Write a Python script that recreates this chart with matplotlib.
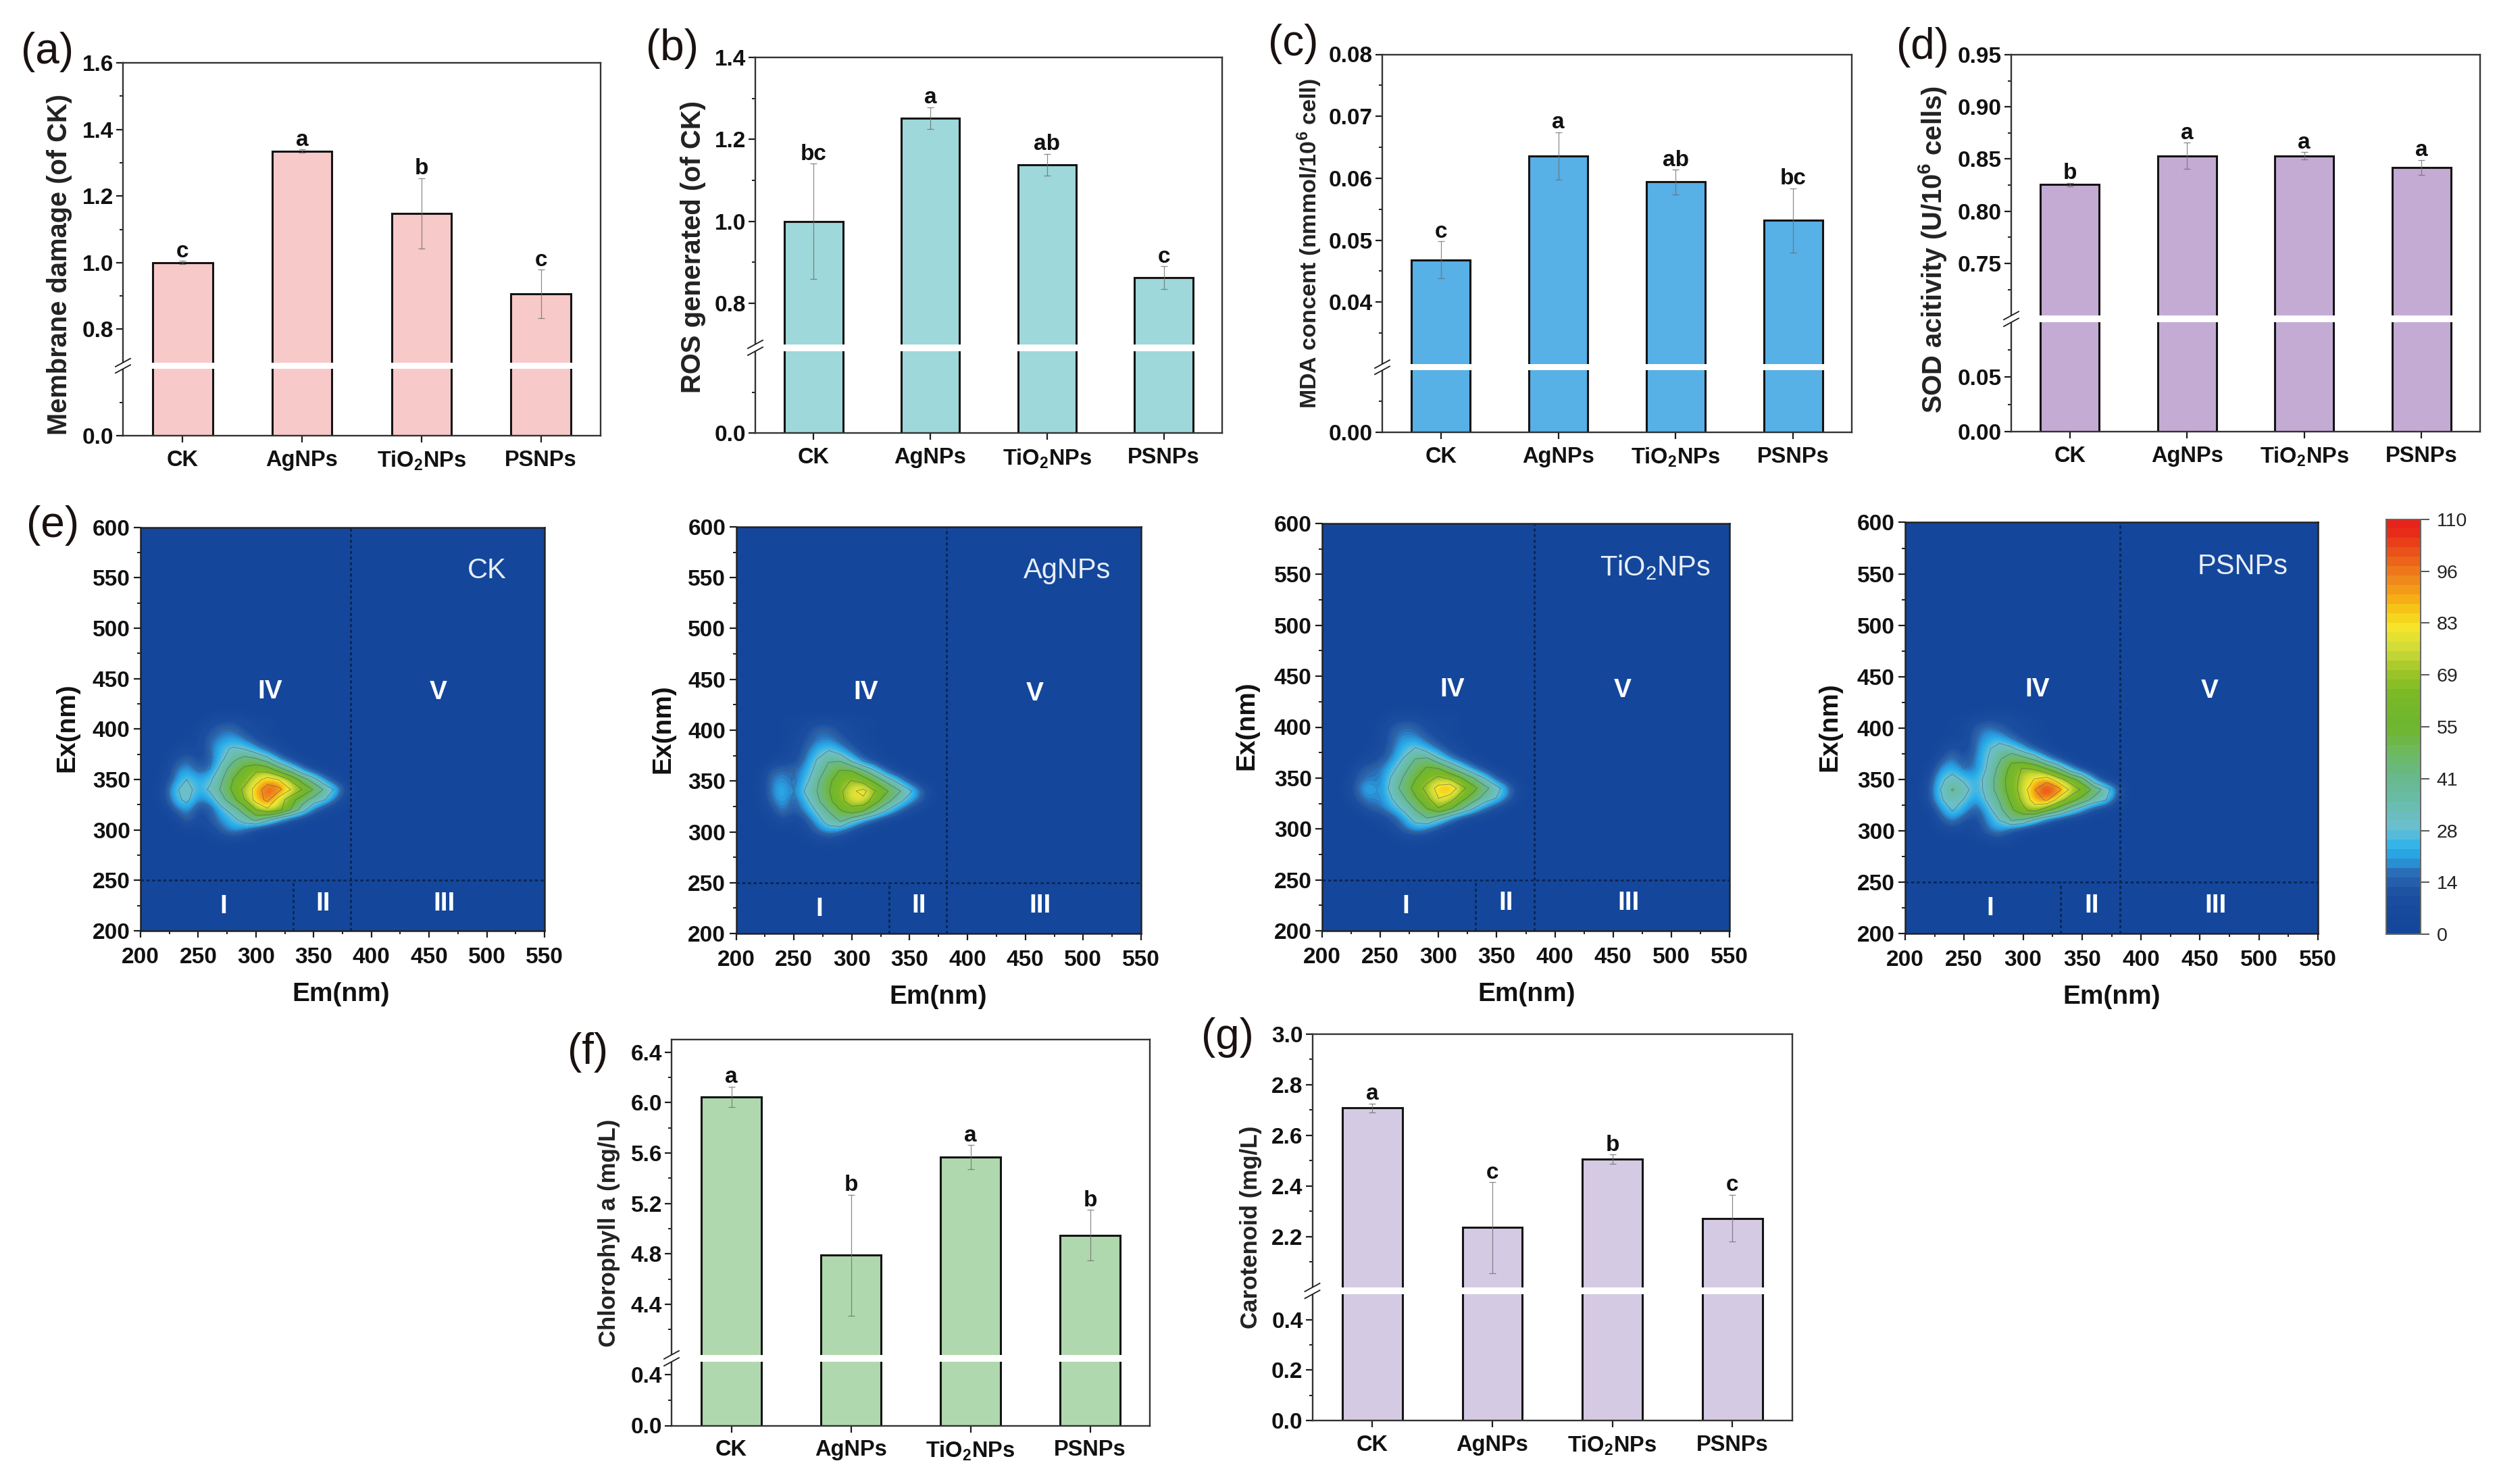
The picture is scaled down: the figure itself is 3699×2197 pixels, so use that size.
import numpy as np
import matplotlib
matplotlib.use("Agg")
import matplotlib.pyplot as plt
from matplotlib.colors import LinearSegmentedColormap
from matplotlib.patches import Rectangle

W, H = 3699, 2197
plt.rcParams['font.family'] = ['Liberation Sans', 'DejaVu Sans']
plt.rcParams['mathtext.default'] = 'regular'
plt.rcParams['axes.unicode_minus'] = False

# ---------- data ----------
categories = ['CK', 'AgNPs', 'TiO$_2$NPs', 'PSNPs']

membrane = [1.0, 1.335, 1.148, 0.906]
membrane_err = [0.005, 0.005, 0.106, 0.0725]
membrane_sig = ['c', 'a', 'b', 'c']

ros = [1.0, 1.252, 1.138, 0.862]
ros_err = [0.141, 0.026, 0.027, 0.028]
ros_sig = ['bc', 'a', 'ab', 'c']

mda = [0.0468, 0.0636, 0.0594, 0.0532]
mda_err = [0.0030, 0.0038, 0.0020, 0.0052]
mda_sig = ['c', 'a', 'ab', 'bc']

sod = [0.8256, 0.853, 0.853, 0.842]
sod_err = [0.0015, 0.0127, 0.0035, 0.0073]
sod_sig = ['b', 'a', 'a', 'a']

chla = [6.045, 4.79, 5.568, 4.948]
chla_err = [0.08, 0.48, 0.095, 0.20]
chla_sig = ['a', 'b', 'a', 'b']

carot = [2.708, 2.236, 2.506, 2.273]
carot_err = [0.018, 0.179, 0.018, 0.093]
carot_sig = ['a', 'c', 'b', 'c']

em_nm = [220, 230, 240, 250, 260, 270, 280, 290, 300, 310, 320, 330, 340, 350, 360, 370, 380]
ex_nm = [410, 400, 390, 380, 370, 360, 350, 340, 330, 320, 310, 300, 290]

eem_ck = [
    [0, 0, 0, 1, 4, 6, 7, 6, 3, 2, 1, 0, 0, 0, 0, 0, 0],
    [0, 0, 1, 3, 9, 15, 14, 8, 5, 3, 1, 0, 0, 0, 0, 0, 0],
    [0, 1, 2, 5, 14, 17, 20, 15, 8, 4, 2, 0, 0, 0, 0, 0, 0],
    [0, 3, 6, 4, 15, 24, 30, 28, 19, 11, 5, 2, 0, 0, 0, 0, 0],
    [1, 8, 15, 7, 12, 25, 38, 46, 43, 33, 17, 7, 2, 0, 0, 0, 0],
    [2, 15, 20, 12, 14, 34, 48, 58, 66, 62, 47, 33, 16, 6, 1, 0, 0],
    [4, 17, 28, 20, 25, 39, 55, 62, 78, 88, 82, 67, 48, 33, 16, 4, 0],
    [8, 25, 35, 21, 30, 43, 58, 73, 88, 104, 100, 83, 69, 54, 38, 24, 5],
    [7, 23, 32, 16, 20, 36, 50, 69, 88, 100, 76, 62, 47, 36, 28, 12, 2],
    [2, 14, 20, 8, 10, 24, 34, 47, 69, 80, 74, 55, 35, 15, 5, 1, 0],
    [0, 3, 15, 6, 11, 18, 24, 34, 44, 32, 18, 8, 3, 1, 0, 0, 0],
    [0, 1, 3, 2, 5, 14, 20, 15, 6, 2, 1, 0, 0, 0, 0, 0, 0],
    [0, 0, 0, 0, 1, 3, 5, 3, 1, 0, 0, 0, 0, 0, 0, 0, 0],
]
eem_ag = [
    [0, 0, 2, 3, 4, 5, 6, 5, 4, 3, 2, 0, 0, 0, 0, 0, 0],
    [0, 0, 1, 3, 7, 14, 14, 8, 5, 3, 1, 0, 0, 0, 0, 0, 0],
    [0, 0, 1, 4, 10, 16, 17, 13, 7, 3, 1, 0, 0, 0, 0, 0, 0],
    [0, 0, 2, 5, 13, 22, 28, 21, 13, 7, 3, 1, 0, 0, 0, 0, 0],
    [0, 2, 6, 7, 16, 29, 40, 40, 26, 13, 6, 2, 0, 0, 0, 0, 0],
    [1, 13, 15, 14, 20, 33, 46, 56, 55, 43, 29, 12, 4, 1, 0, 0, 0],
    [2, 15, 20, 12, 24, 39, 52, 63, 70, 64, 52, 38, 24, 9, 2, 0, 0],
    [2, 16, 24, 14, 30, 41, 54, 66, 80, 88, 70, 57, 44, 31, 16, 3, 0],
    [2, 13, 22, 11, 23, 38, 51, 64, 78, 78, 60, 45, 32, 20, 11, 2, 0],
    [1, 6, 18, 10, 17, 29, 41, 53, 60, 54, 40, 26, 14, 5, 1, 0, 0],
    [0, 2, 8, 3, 9, 20, 34, 41, 28, 16, 7, 2, 0, 0, 0, 0, 0],
    [0, 0, 1, 1, 5, 13, 18, 14, 6, 2, 0, 0, 0, 0, 0, 0, 0],
    [0, 0, 0, 0, 1, 3, 5, 3, 1, 0, 0, 0, 0, 0, 0, 0, 0],
]
eem_ti = [
    [0, 0, 1, 2, 5, 6, 6, 4, 3, 5, 1, 0, 0, 0, 0, 0, 0],
    [0, 0, 1, 4, 11, 15, 13, 7, 4, 2, 1, 0, 0, 0, 0, 0, 0],
    [0, 0, 1, 4, 14, 18, 17, 12, 7, 3, 1, 0, 0, 0, 0, 0, 0],
    [0, 0, 2, 6, 14, 23, 28, 19, 13, 7, 3, 1, 0, 0, 0, 0, 0],
    [0, 1, 4, 9, 17, 28, 40, 41, 27, 15, 7, 3, 0, 0, 0, 0, 0],
    [0, 8, 14, 15, 23, 36, 48, 56, 54, 41, 28, 14, 5, 1, 0, 0, 0],
    [1, 12, 16, 15, 30, 42, 54, 63, 72, 66, 55, 41, 27, 10, 3, 0, 0],
    [2, 15, 23, 15, 34, 46, 60, 74, 88, 94, 74, 60, 45, 33, 18, 3, 0],
    [2, 12, 19, 16, 28, 39, 53, 66, 83, 76, 60, 47, 35, 27, 14, 3, 0],
    [0, 4, 12, 15, 21, 31, 42, 55, 68, 57, 42, 28, 15, 6, 1, 0, 0],
    [0, 0, 3, 5, 11, 19, 33, 40, 30, 17, 7, 2, 0, 0, 0, 0, 0],
    [0, 0, 0, 2, 6, 14, 20, 16, 8, 3, 1, 0, 0, 0, 0, 0, 0],
    [0, 0, 0, 0, 1, 3, 5, 3, 1, 0, 0, 0, 0, 0, 0, 0, 0],
]
eem_ps = [
    [0, 0, 1, 3, 5, 6, 7, 6, 4, 2, 1, 0, 0, 0, 0, 0, 0],
    [0, 1, 2, 4, 12, 17, 12, 8, 5, 3, 1, 0, 0, 0, 0, 0, 0],
    [0, 1, 2, 4, 15, 20, 22, 14, 8, 4, 2, 0, 0, 0, 0, 0, 0],
    [0, 3, 12, 5, 15, 26, 34, 31, 20, 10, 4, 1, 0, 0, 0, 0, 0],
    [0, 10, 18, 8, 17, 28, 39, 52, 46, 37, 20, 8, 2, 0, 0, 0, 0],
    [3, 19, 23, 14, 16, 30, 45, 59, 71, 68, 56, 42, 20, 6, 1, 0, 0],
    [8, 25, 33, 25, 22, 33, 48, 62, 74, 84, 90, 75, 62, 47, 18, 3, 0],
    [10, 28, 42, 34, 20, 34, 47, 62, 76, 96, 110, 101, 80, 67, 51, 35, 16],
    [9, 26, 35, 27, 18, 30, 42, 58, 73, 90, 98, 77, 62, 49, 36, 29, 8],
    [3, 17, 29, 20, 10, 23, 37, 52, 66, 74, 58, 46, 31, 18, 7, 2, 0],
    [0, 10, 18, 9, 7, 18, 28, 41, 38, 24, 12, 5, 1, 0, 0, 0, 0],
    [0, 3, 7, 3, 5, 15, 19, 10, 4, 1, 0, 0, 0, 0, 0, 0, 0],
    [0, 0, 0, 0, 1, 4, 6, 3, 1, 0, 0, 0, 0, 0, 0, 0, 0],
]
eem_names = ['CK', 'AgNPs', 'TiO$_2$NPs', 'PSNPs']
contour_levels = [14, 28, 41, 55, 69, 83, 96]
cbar_ticks = [0, 13.75, 27.5, 41.25, 55, 68.75, 82.5, 96.25, 110]
cbar_labels = ['0', '14', '28', '41', '55', '69', '83', '96', '110']

# ---------- helpers ----------
fig = plt.figure(figsize=(W / 100, H / 100), dpi=100, facecolor='white')
DARK = '#1c1c1c'


def px_axes(L, T, R, B):
    return fig.add_axes([L / W, 1 - B / H, (R - L) / W, (B - T) / H])


def px_text(x, y, s, **kw):
    return fig.text(x / W, 1 - y / H, s, ha='center', va='center', **kw)


def fitted_ylabel(x, y, s, length):
    t = px_text(x, y, s, rotation=90, fontweight='bold', fontsize=30, color='#222222')
    r = fig.canvas.get_renderer()
    t.set_fontsize(30 * length / t.get_window_extent(r).height)


def bar_panel(box, vals, errs, sig, color, ymax, lo, hi, lo_frac, hi_frac,
              major, major_lbl, minor):
    L, T, R, B = box
    ax = px_axes(L, T, R, B)
    xp, fp = [0, lo, hi, ymax], [0, lo_frac, hi_frac, 1]
    ax.set_yscale('function', functions=(lambda v: np.interp(v, xp, fp),
                                         lambda f: np.interp(f, fp, xp)))
    x = np.arange(len(vals))
    ax.bar(x, vals, width=0.5, color=color, edgecolor='#141414', linewidth=2.2, zorder=2)
    ax.errorbar(x, vals, yerr=errs, fmt='none', ecolor='#6e6e6e', elinewidth=0.9,
                capsize=3.5, capthick=0.9, alpha=0.8, zorder=3)
    for xi, v, e, s in zip(x, vals, errs, sig):
        ax.annotate(s, (xi, v + e), xytext=(0, 4), textcoords='offset points',
                    ha='center', va='baseline', fontsize=24, fontweight='bold', color='#111111',
                    zorder=6)
    ax.set_xlim(-0.5, 3.5)
    ax.set_ylim(0, ymax)
    ax.axhspan(lo, hi, xmin=0.004, xmax=0.995, facecolor='white', edgecolor='none', zorder=4)
    ax.set_yticks(major, major_lbl)
    ax.set_yticks(minor, minor=True)
    ax.set_xticks(x, categories)
    ax.tick_params(axis='y', which='major', length=7, width=1.6, pad=3, labelsize=24, color=DARK)
    ax.tick_params(axis='y', which='minor', length=3.5, width=1.4, color=DARK)
    ax.tick_params(axis='x', which='major', length=7, width=1.6, pad=8, labelsize=23.5, color=DARK)
    for lab in ax.get_xticklabels() + ax.get_yticklabels():
        lab.set_fontweight('bold')
        lab.set_color('#111111')
    for sp in ax.spines.values():
        sp.set_linewidth(1.7)
        sp.set_color('#333333')
    # axis break on the left spine
    pw, ph = R - L, B - T
    ax.add_patch(Rectangle((-3 / pw, lo_frac), 6 / pw, hi_frac - lo_frac, transform=ax.transAxes,
                           facecolor='white', edgecolor='none', clip_on=False, zorder=5))
    for f in (lo_frac, hi_frac):
        ax.plot([-11 / pw, 11 / pw], [f - 6 / ph, f + 6 / ph], transform=ax.transAxes,
                color=DARK, lw=1.3, clip_on=False, zorder=6)
    return ax


# ---------- bar panels ----------
bar_panel((182, 93, 889, 645), membrane, membrane_err, membrane_sig, '#f8c9c9', 1.6, 0.2, 0.7, 0.179, 0.196,
          [0, 0.8, 1.0, 1.2, 1.4, 1.6], ['0.0', '0.8', '1.0', '1.2', '1.4', '1.6'],
          [0.1, 0.9, 1.1, 1.3, 1.5])
bar_panel((1118, 85, 1809, 641.5), ros, ros_err, ros_sig, '#9ed8da', 1.4, 0.2, 0.7, 0.2184, 0.2368,
          [0, 0.8, 1.0, 1.2, 1.4], ['0.0', '0.8', '1.0', '1.2', '1.4'],
          [0.1, 0.9, 1.1, 1.3])
bar_panel((2046, 80.5, 2741, 640), mda, mda_err, mda_sig, '#57b0e6', 0.08, 0.01, 0.03, 0.1639, 0.1805,
          [0, 0.04, 0.05, 0.06, 0.07, 0.08], ['0.00', '0.04', '0.05', '0.06', '0.07', '0.08'],
          [0.005, 0.035, 0.045, 0.055, 0.065, 0.075])
bar_panel((2977, 81, 3671, 639), sod, sod_err, sod_sig, '#c4abd4', 0.95, 0.1, 0.7, 0.290, 0.3078,
          [0, 0.05, 0.75, 0.80, 0.85, 0.90, 0.95], ['0.00', '0.05', '0.75', '0.80', '0.85', '0.90', '0.95'],
          [0.025, 0.075, 0.725, 0.775, 0.825, 0.875, 0.925])
bar_panel((994, 1539, 1702, 2110.5), chla, chla_err, chla_sig, '#b0d8ae', 6.5, 0.5, 4.0, 0.1652, 0.1832,
          [0, 0.4, 4.4, 4.8, 5.2, 5.6, 6.0, 6.4], ['0.0', '0.4', '4.4', '4.8', '5.2', '5.6', '6.0', '6.4'],
          [0.2, 4.2, 4.6, 5.0, 5.4, 5.8, 6.2])
bar_panel((1942.5, 1531, 2653, 2103), carot, carot_err, carot_sig, '#d5cae3', 3.0, 0.5, 2.0, 0.3265, 0.3445,
          [0, 0.2, 0.4, 2.2, 2.4, 2.6, 2.8, 3.0], ['0.0', '0.2', '0.4', '2.2', '2.4', '2.6', '2.8', '3.0'],
          [0.1, 0.3, 2.1, 2.3, 2.5, 2.7, 2.9])

fitted_ylabel(88, 392, 'Membrane damage (of CK)', 505)
fitted_ylabel(1026, 365, 'ROS generated (of CK)', 434)
fitted_ylabel(1938, 361, 'MDA concent (nmmol/10$^6$ cell)', 489)
fitted_ylabel(2861, 370, 'SOD acitivity (U/10$^6$ cells)', 484)
fitted_ylabel(902, 1825, 'Chlorophyll a (mg/L)', 338)
fitted_ylabel(1851, 1817, 'Carotenoid (mg/L)', 300)

for (px, py), s in zip([(70, 77), (995, 72), (1914, 65), (2846, 70), (78, 778), (870, 1558), (1817, 1536)],
                       ['(a)', '(b)', '(c)', '(d)', '(e)', '(f)', '(g)']):
    px_text(px, py, s, fontsize=46, color='#1a1210')

# ---------- EEM panels ----------
anchors = [(0, '#14479b'), (8, '#1c4ea0'), (14, '#2a68b2'), (18, '#2a98dc'), (21.5, '#2ab2ec'),
           (27, '#6cc0d2'), (35, '#6abda8'), (41, '#68b98e'), (48, '#6fba62'), (55, '#6eb630'),
           (64, '#7cba26'), (70, '#a0c628'), (76, '#cfdc3a'), (82, '#f5e62a'), (87, '#f7c818'),
           (91, '#f6a616'), (96, '#f0861c'), (103, '#ea5519'), (110, '#e8231b')]
cmap = LinearSegmentedColormap.from_list('eem', [(v / 110, c) for v, c in anchors], N=84)

eem_boxes = [(208, 780.5, 806, 1378), (1089.5, 780, 1689, 1382),
             (1957, 775, 2560, 1378), (2820, 773.5, 3431, 1382)]
eem_tables = [eem_ck, eem_ag, eem_ti, eem_ps]
ex_label_x = [99, 981, 1845, 2708]
em_label_c = [505, 1389, 2260, 3126]

em_axis = np.array(em_nm, float)
ex_axis = np.array(ex_nm, float)
em_pad = np.r_[em_axis[0] - 10, em_axis, em_axis[-1] + 10]
ex_pad = np.r_[ex_axis[0] + 10, ex_axis, ex_axis[-1] - 10]

for box, tbl, name, exx, emx in zip(eem_boxes, eem_tables, eem_names, ex_label_x, em_label_c):
    ax = px_axes(*box)
    ax.set_facecolor(cmap(0))
    Z = np.pad(np.array(tbl, float), 1)
    ax.imshow(Z, extent=(em_pad[0] - 5, em_pad[-1] + 5, ex_pad[-1] - 5, ex_pad[0] + 5),
              cmap=cmap, vmin=0, vmax=110, interpolation='bicubic', aspect='auto', zorder=1)
    ax.contour(em_pad, ex_pad, Z, levels=contour_levels, colors='#4a5a58', linewidths=0.65,
               alpha=0.6, zorder=2)
    ax.set_xlim(200, 550)
    ax.set_ylim(200, 600)
    ax.plot([200, 550], [250, 250], color='#0c2450', lw=2, ls=(0, (1.6, 1.4)), zorder=3)
    ax.plot([382, 382], [200, 600], color='#0c2450', lw=2, ls=(0, (1.6, 1.4)), zorder=3)
    ax.plot([332, 332], [200, 250], color='#0c2450', lw=2, ls=(0, (1.6, 1.4)), zorder=3)
    for s, ex_, ey_ in [('IV', 312, 437), ('V', 458, 436), ('I', 272, 224),
                        ('II', 358, 227), ('III', 463, 227)]:
        ax.text(ex_, ey_, s, color='white', fontsize=28, fontweight='bold', ha='center', va='center', zorder=4)
    ax.text(500 if name == 'CK' else 486, 557, name, color='#e8eef6', fontsize=30,
            ha='center', va='center', zorder=4)
    ax.set_xticks(np.arange(200, 551, 50))
    ax.set_yticks(np.arange(200, 601, 50))
    ax.set_xticks(np.arange(225, 550, 50), minor=True)
    ax.set_yticks(np.arange(225, 600, 50), minor=True)
    ax.tick_params(which='major', length=7, width=1.6, labelsize=24, color=DARK)
    ax.tick_params(axis='x', which='major', pad=10)
    ax.tick_params(axis='y', which='major', pad=4)
    ax.tick_params(which='minor', length=3.5, width=1.4, color=DARK)
    for lab in ax.get_xticklabels() + ax.get_yticklabels():
        lab.set_fontweight('bold')
        lab.set_color('#111111')
    for sp in ax.spines.values():
        sp.set_linewidth(1.8)
        sp.set_color('#222222')
    px_text(exx, (box[1] + box[3]) / 2 - 2, 'Ex(nm)', rotation=90, fontsize=28, fontweight='bold', color='#111111')
    px_text(emx, box[3] + 94, 'Em(nm)', fontsize=28, fontweight='bold', color='#111111')

# ---------- colour bar ----------
cax = px_axes(3532, 769, 3583, 1383)
cax.imshow(np.linspace(110, 0, 44)[:, None], cmap=cmap, vmin=0, vmax=110,
           extent=(0, 1, 0, 110), aspect='auto', interpolation='nearest')
cax.set_xticks([])
cax.yaxis.tick_right()
cax.set_yticks(cbar_ticks, cbar_labels)
cax.tick_params(axis='y', length=9, width=1.4, pad=8, labelsize=20.5, color='#555555', labelcolor='#222222')
for sp in cax.spines.values():
    sp.set_linewidth(1.4)
    sp.set_color('#666666')

fig.savefig('out.png', dpi=100, facecolor='white')
